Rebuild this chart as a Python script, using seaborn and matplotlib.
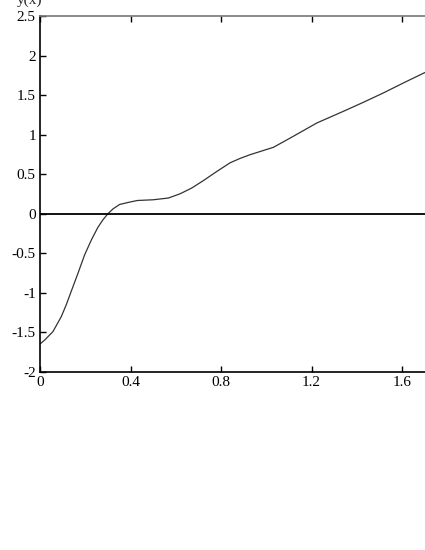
import pandas as pd
import matplotlib
matplotlib.use('Agg')
import matplotlib.pyplot as plt
import seaborn as sns

# curve values
x = [0.0, 0.021, 0.057, 0.094, 0.116, 0.138, 0.168, 0.197, 0.227, 0.256,
     0.278, 0.30, 0.323, 0.352, 0.389, 0.43, 0.50, 0.567, 0.619, 0.67,
     0.722, 0.781, 0.84, 0.884, 0.928, 1.031, 1.105, 1.223, 1.34, 1.429,
     1.517, 1.606, 1.70]
y = [-1.646, -1.595, -1.49, -1.30, -1.15, -0.98, -0.75, -0.52, -0.33, -0.17,
     -0.076, 0.0, 0.063, 0.118, 0.143, 0.168, 0.177, 0.199, 0.253, 0.325,
     0.42, 0.535, 0.645, 0.70, 0.747, 0.84, 0.957, 1.148, 1.295, 1.41,
     1.528, 1.655, 1.785]
xticks = [0, 0.4, 0.8, 1.2, 1.6]
xticklabels = ['0', '0.4', '0.8', '1.2', '1.6']
yticks = [-2, -1.5, -1, -0.5, 0, 0.5, 1, 1.5, 2, 2.5]
yticklabels = ['-2', '-1.5', '-1', '-0.5', '0', '0.5', '1', '1.5', '2', '2.5']

df = pd.DataFrame({'x': x, 'y': y})

sns.set_style('ticks')
plt.rcParams['font.family'] = ['Liberation Serif', 'DejaVu Serif']

fig = plt.figure(figsize=(4.25, 5.5), dpi=100)
# right edge of the axes sits just past the canvas, as in the reference
ax = fig.add_axes([40 / 425, 1 - 372 / 550, 386 / 425, (372 - 16) / 550])

sns.lineplot(data=df, x='x', y='y', color='#333333', linewidth=0.9, ax=ax)
ax.axhline(0, color='black', linewidth=1.3)

ax.set_xlim(0, 1.705)
ax.set_ylim(-2, 2.5)
ax.set_xticks(xticks)
ax.set_xticklabels(xticklabels)
ax.set_yticks(yticks)
ax.set_yticklabels(yticklabels)
ax.set_xlabel('')
ax.set_ylabel('')
ax.tick_params(direction='in', length=4, width=1, labelsize=11, top=True,
               right=False, pad=3, colors='black')
for s in ax.spines.values():
    s.set_linewidth(1.2)
    s.set_color('black')
ax.spines['top'].set_color('#777777')

# label cut off at the top edge
fig.text(30 / 425, 1.0, 'y(x)', fontsize=11, ha='center', va='center')

fig.savefig('out.png', dpi=100)
